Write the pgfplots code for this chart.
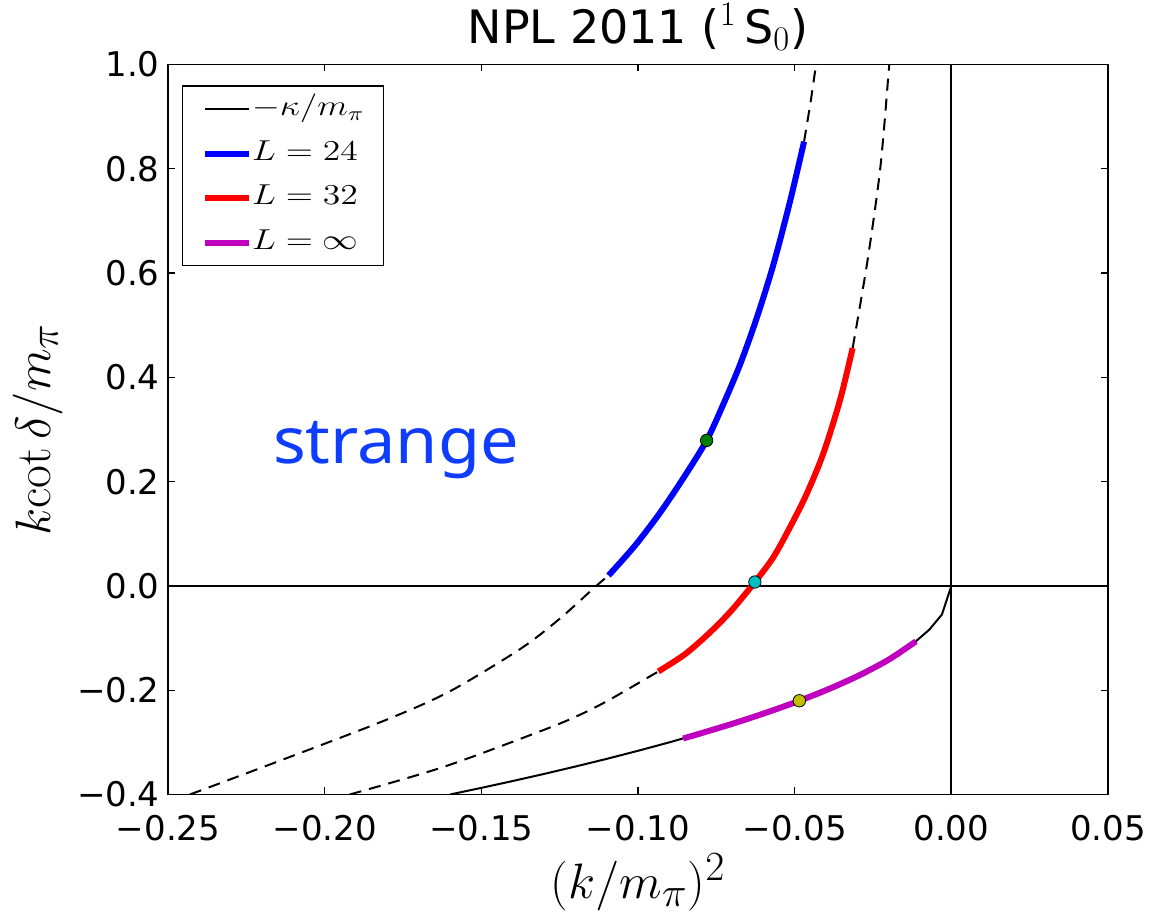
\documentclass[border=0pt]{standalone}
\usepackage[no-math]{fontspec}
\setmainfont{DejaVu Sans}
\newfontfamily\strangefont{Noto Sans}
\usepackage{graphicx}
\usepackage{pgfplots}
\pgfplotsset{compat=1.18}
\definecolor{mplgreen}{rgb}{0,0.5,0}
\definecolor{mplcyan}{rgb}{0,0.75,0.75}
\definecolor{mplyellow}{rgb}{0.75,0.75,0}
\definecolor{mplmagenta}{rgb}{0.75,0,0.75}
\definecolor{strangeblue}{rgb}{0.06,0.24,1}
\newcommand{\wide}[1]{\scalebox{1.24}[1]{#1}}
\begin{document}
\begin{tikzpicture}
\path[use as bounding box] (-84pt,-60.25pt) rectangle (495pt,397.25pt);
\begin{axis}[
  scale only axis, width=470pt, height=365pt,
  xmin=-0.25, xmax=0.05, ymin=-0.4, ymax=1.0,
  xtick={-0.25,-0.2,-0.15,-0.1,-0.05,0,0.05},
  xticklabels={−0.25,−0.20,−0.15,−0.10,−0.05,0.00,0.05},
  ytick={-0.4,-0.2,0,0.2,0.4,0.6,0.8,1.0},
  yticklabels={−0.4,−0.2,0.0,0.2,0.4,0.6,0.8,1.0},
  tick align=inside, major tick length=3.5pt,
  tick style={black, line width=0.6pt},
  axis line style={line width=0.8pt},
  ticklabel style={font=\fontsize{17}{20}\selectfont},
  xticklabel style={inner sep=0pt, yshift=-10pt},
  yticklabel style={inner sep=0pt, xshift=-4pt},
  title={NPL 2011 ($^1$\,S$_0$)},
  title style={font=\fontsize{23}{27}\selectfont, at={(rel axis cs:0.5,1)}, anchor=base, inner sep=0pt, yshift=4.5pt},
  xlabel={$(k/m_\pi)^2$},
  xlabel style={font=\fontsize{30}{34}\selectfont, at={(rel axis cs:0.5,0)}, anchor=center, yshift=-44pt},
  ylabel={$k\mathrm{cot}\,\delta/m_\pi$},
  ylabel style={font=\fontsize{29}{33}\selectfont, at={(rel axis cs:0,0.5)}, anchor=center, yshift=65pt},
  legend style={at={(rel axis cs:0,1)}, anchor=north west, xshift=7pt, yshift=-10.5pt,
    draw=black, line width=0.7pt, fill=white, inner xsep=9.7pt, inner ysep=0.5pt,
    font=\fontsize{14}{16}\selectfont, row sep=0pt,
    nodes={inner xsep=0pt, inner ysep=4.85pt, text height=9.5pt, text depth=3pt},
    cells={anchor=west},
    /tikz/every even column/.append style={column sep=16.5pt}},
  legend image code/.code={\draw[#1] (0pt,0pt) -- (22pt,0pt);},
]
% zero lines
\addplot[black, line width=0.9pt, forget plot] coordinates {(-0.25,0) (0.05,0)};
\addplot[black, line width=0.9pt, forget plot] coordinates {(0,-0.4) (0,1.0)};
% -kappa
\addplot[black, line width=1pt] coordinates {
(-0.160,-0.4000) (-0.150,-0.3873) (-0.140,-0.3742) (-0.130,-0.3606) (-0.120,-0.3464)
(-0.110,-0.3317) (-0.100,-0.3162) (-0.090,-0.3000) (-0.080,-0.2828) (-0.070,-0.2646)
(-0.060,-0.2449) (-0.050,-0.2236) (-0.040,-0.2000) (-0.030,-0.1732) (-0.020,-0.1414)
(-0.015,-0.1225) (-0.0115,-0.1072) (-0.007,-0.0837) (-0.003,-0.0548) (0,0)};
\addlegendentry{\wide{$-\kappa/m_\pi$}}
% L=24
\addplot[black, line width=1pt, dash pattern=on 6pt off 4pt, smooth, forget plot] coordinates {
(-0.243,-0.400) (-0.212,-0.330) (-0.180,-0.256) (-0.160,-0.202) (-0.1376,-0.121)
(-0.125,-0.063) (-0.1137,-0.002) (-0.1094,0.020)};
\addplot[black, line width=1pt, dash pattern=on 6pt off 4pt, smooth, forget plot] coordinates {
(-0.047,0.852) (-0.0450,0.925) (-0.0437,0.978) (-0.0432,1.000)};
\addplot[blue, line width=3pt, smooth] coordinates {
(-0.1094,0.020) (-0.101,0.077) (-0.093,0.140) (-0.0855,0.207) (-0.0781,0.279) (-0.0728,0.348) (-0.0674,0.425)
(-0.0621,0.514) (-0.0568,0.616) (-0.0515,0.737) (-0.047,0.852)};
\addlegendentry{\wide{$L=24$}}
% L=32
\addplot[black, line width=1pt, dash pattern=on 6pt off 4pt, smooth, forget plot] coordinates {
(-0.192,-0.400) (-0.162,-0.347) (-0.130,-0.276) (-0.1185,-0.247) (-0.109,-0.218) (-0.0935,-0.164)};
\addplot[black, line width=1pt, dash pattern=on 6pt off 4pt, smooth, forget plot] coordinates {
(-0.0315,0.456) (-0.0268,0.622) (-0.0227,0.800) (-0.0201,0.978) (-0.0198,1.000)};
\addplot[red, line width=3pt, smooth] coordinates {
(-0.0935,-0.164) (-0.085,-0.131) (-0.077,-0.089) (-0.070,-0.046) (-0.0627,0.0075) (-0.0568,0.055) (-0.0515,0.1125)
(-0.0462,0.176) (-0.0408,0.255) (-0.0355,0.357) (-0.0315,0.456)};
\addlegendentry{\wide{$L=32$}}
% L=inf
\addplot[mplmagenta, line width=3pt, smooth] coordinates {
(-0.0856,-0.2926) (-0.080,-0.2828) (-0.070,-0.2646) (-0.060,-0.2449) (-0.050,-0.2236)
(-0.040,-0.2000) (-0.030,-0.1732) (-0.020,-0.1414) (-0.0113,-0.1063)};
\addlegendentry{\wide{$L=\infty$}}
% points
\addplot[only marks, mark=*, mark size=3.1pt, mark options={fill=mplgreen, draw=black, line width=0.4pt}, forget plot] coordinates {(-0.0781,0.279)};
\addplot[only marks, mark=*, mark size=3.1pt, mark options={fill=mplcyan, draw=black, line width=0.4pt}, forget plot] coordinates {(-0.0627,0.0075)};
\addplot[only marks, mark=*, mark size=3.1pt, mark options={fill=mplyellow, draw=black, line width=0.4pt}, forget plot] coordinates {(-0.0485,-0.2202)};
\node[anchor=base west, inner sep=0pt, text=strangeblue, font=\strangefont\fontsize{32}{36}\selectfont] at (axis cs:-0.2166,0.2353) {\scalebox{1.07}[1]{strange}};
\end{axis}
\end{tikzpicture}
\end{document}
